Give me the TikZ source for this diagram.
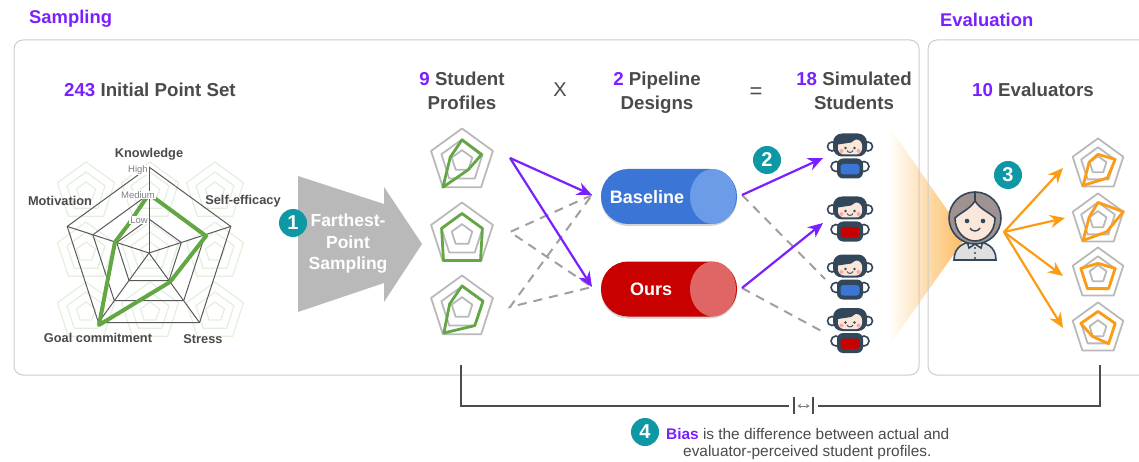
\documentclass[tikz,border=0pt]{standalone}
\usepackage{fontspec}
\setmainfont{Liberation Sans}
\usetikzlibrary{arrows.meta,shadows}
\definecolor{accent}{HTML}{7A1FFF}
\definecolor{teal}{HTML}{0E97A5}
\definecolor{inkgray}{HTML}{4A4A4A}
\definecolor{leaf}{HTML}{62A744}
\definecolor{amber}{HTML}{FB9C14}
\definecolor{navy}{HTML}{33475B}
\definecolor{skin}{HTML}{FBE6DA}
\definecolor{hairtone}{HTML}{A09290}
\definecolor{pipeblue}{HTML}{3B76D6}
\definecolor{pipered}{HTML}{C80000}
\definecolor{softblue}{HTML}{6C9BE8}
\definecolor{softred}{HTML}{E06666}
\newcommand{\fs}[1]{\fontsize{#1}{#1}\selectfont}
\newcommand{\hl}[1]{\textcolor{accent}{#1}}
\newcommand{\rings}[4]{\begin{scope}[shift={(#1,#2)}]
	\foreach \k in {1,0.667,0.333}
	\draw[#4] (-90:{#3*\k}) -- (-18:{#3*\k}) -- (54:{#3*\k}) -- (126:{#3*\k}) -- (198:{#3*\k}) -- cycle;
\end{scope}}
\newcommand{\profile}[8]{\begin{scope}[shift={(#1,#2)}]
	\draw[#4] (-90:{#3*#5}) -- (-18:{#3*#6}) -- (54:{#3*#7}) -- (126:{#3*#8}) -- (198:{#3*\lastv}) -- cycle;
\end{scope}}
\newcommand{\robot}[3]{\begin{scope}[shift={(#1,#2)}]
	\foreach \s in {-1,1} {
		\draw[robotline,fill=white] (\s*18,-10) circle (4.5);
		\draw[robotline,fill=white] (\s*14,10) circle (5);
	}
	\fill[navy,rounded corners=9pt] (-17,-23) rectangle (17,0);
	\fill[skin,rounded corners=6pt] (-12,-17) rectangle (12,-2);
	\fill[navy] (-12,-18) -- (7,-18) -- (1,-14) -- (-12,-12) -- cycle;
	\fill[navy,rounded corners=6pt] (-13,2) rectangle (13,22);
	\fill[#3,rounded corners=3pt] (-9.5,7.5) rectangle (9.5,18);
	\foreach \s in {-1,1} {
		\fill[red!35] (\s*8.5,-5.5) circle (2);
		\fill[navy] (\s*4.5,-8.5) circle (1.3);
	}
	\draw[navy,line width=.9pt] (-3,-6) .. controls (-2,-3.5) and (2,-3.5) .. (3,-6);
\end{scope}}
\newcommand{\evaluator}[2]{\begin{scope}[shift={(#1,#2)}]
	\draw[robotline,fill=gray!25] (-21,42) .. controls (-21,28) and (-10,24) .. (0,23) .. controls (10,24) and (21,28) .. (21,42) -- cycle;
	\draw[robotline,fill=white] (-8,23) -- (0,25) -- (8,23) -- (6,30) -- (0,26) -- (-6,30) -- cycle;
	\foreach \y in {30,35,40} \fill[navy] (0,\y) circle (1.1);
	\draw[robotline,fill=hairtone] (0,0) circle (26);
	\draw[robotline,fill=skin] (0,-17) .. controls (-6,-8) and (-14,-6) .. (-20,0) .. controls (-20,14) and (-10,23) .. (0,23) .. controls (10,23) and (20,14) .. (20,0) .. controls (14,-6) and (6,-8) .. (0,-17) -- cycle;
	\draw[robotline] (0,-26) -- (0,-17);
	\foreach \s in {-1,1} \fill[navy] (\s*8,3) circle (2.3);
	\draw[navy,line width=1.4pt] (-5,10) .. controls (-3,14) and (3,14) .. (5,10);
\end{scope}}
\tikzset{
	panelbox/.style={draw=gray!40,line width=1pt,rounded corners=9pt},
	ringline/.style={draw=gray!55,line width=1.8pt,line join=round},
	biggrid/.style={draw=black!65,line width=1pt},
	fadedring/.style={draw=leaf!18,line width=1.2pt},
	greenline/.style={draw=leaf,line width=2.8pt,line join=round},
	orangeline/.style={draw=amber,line width=2.8pt,line join=round},
	robotline/.style={draw=navy,line width=1.6pt},
	headtext/.style={text=inkgray,font=\bfseries\fs{18.7},align=center,inner sep=0pt},
	sectext/.style={text=accent,font=\bfseries\fs{18.4},inner sep=0pt},
	axistext/.style={text=inkgray,font=\bfseries\fs{12.8},inner sep=0pt},
	leveltext/.style={text=gray,font=\fs{9.5},fill=white,inner sep=1pt},
	stepmark/.style={circle,fill=teal,text=white,font=\bfseries\fs{20},minimum size=28pt,inner sep=0pt},
	pillbox/.style={rounded corners=27pt,minimum width=136pt,minimum height=55pt,drop shadow={shadow xshift=0pt,shadow yshift=-2pt,opacity=.35}},
	pilltext/.style={text=white,font=\bfseries\fs{18},inner sep=0pt},
	purplearrow/.style={-{Stealth[length=15pt,width=13pt]},accent,line width=2.2pt},
	amberarrow/.style={-{Stealth[length=15pt,width=13pt]},amber,line width=2.2pt},
	grayflow/.style={draw=gray!75,line width=2pt,dash pattern=on 9pt off 7pt},
	bracketline/.style={draw=black!70,line width=1.5pt}
}
\begin{document}
\begin{tikzpicture}[x=1pt,y=-1pt]
\path[use as bounding box,clip] (0,0) rectangle (1139,462);
% beam behind the panels
\shade[left color=white,right color=amber!70] (888,125) -- (966,237) -- (888,347) -- cycle;
\draw[panelbox] (14,40) rectangle (919,375);
\draw[panelbox] (928,40) rectangle (1170,375);
\node[sectext,anchor=west] (samplinghead) at (29,19) {Sampling};
\node[sectext,anchor=west] (evalhead) at (940,20) {Evaluation};
\node[headtext,anchor=west] (initialhead) at (64,90) {\hl{243} Initial Point Set};
\node[headtext] (profilehead) at (462,90.5) {\hl{9} Student\\[5pt]Profiles};
\node[headtext,font=\fs{20}] (timessign) at (560,90) {X};
\node[headtext] (pipelinehead) at (657,92.5) {\hl{2} Pipeline\\[5pt]Designs};
\node[headtext,font=\fs{22}] (equalsign) at (756,93) {=};
\node[headtext] (simhead) at (854,90.5) {\hl{18} Simulated\\[5pt]Students};
\node[headtext,anchor=west] (evaluatorhead) at (972,90) {\hl{10} Evaluators};
% big radar
\foreach \gx in {86,150,215}
	\foreach \gy in {192,252,312} {
		\rings{\gx}{\gy}{30}{fadedring}
	}
\begin{scope}[shift={(149,253)}]
	\foreach \k in {86,59,34}
	\draw[biggrid] (-90:\k) -- (-18:\k) -- (54:\k) -- (126:\k) -- (198:\k) -- cycle;
	\foreach \a in {-90,-18,54,126,198}
	\draw[biggrid] (0,0) -- (\a:86);
\end{scope}
\draw[greenline,line width=4pt] (149,194) -- (206,236) -- (170,282) -- (99,325) -- (115,242) -- (128,225) -- cycle;
\node[leveltext] (highlabel) at (138,170) {High};
\node[leveltext] (mediumlabel) at (138,195) {Medium};
\node[leveltext] (lowlabel) at (139,220) {Low};
\node[axistext] (knowledge) at (149,154) {Knowledge};
\node[axistext] (selfeff) at (243,201) {Self-efficacy};
\node[axistext] (motivation) at (60,201) {Motivation};
\node[axistext] (goal) at (98,338) {Goal commitment};
\node[axistext] (stress) at (203,339) {Stress};
% sampling arrow
\fill[gray!55] (298,176) -- (384,204) -- (384,187) -- (422,244) -- (384,302) -- (384,283) -- (298,312) -- cycle;
\node[text=white,font=\bfseries\fs{17.5},align=center,inner sep=0pt] (fpslabel) at (348,244) {Farthest-\\[4pt]Point\\[4pt]Sampling};
\node[stepmark] (stepone) at (293,223) {1};
% student profiles
\def\lastv{.38}
\rings{462}{161}{32.5}{ringline}
\profile{462}{161}{32.5}{greenline}{.65}{.63}{.33}{1}
\def\lastv{.66}
\rings{462}{235}{32.5}{ringline}
\profile{462}{235}{32.5}{greenline}{.66}{.66}{.97}{.97}
\def\lastv{.4}
\rings{462}{308}{32.5}{ringline}
\profile{462}{308}{32.5}{greenline}{.68}{.68}{.67}{.95}
% pipelines
\node[pillbox,fill=pipeblue] (baseline) at (669,196.5) {};
\fill[softblue] (713,196.5) ellipse (23 and 27.5);
\node[pilltext] (baselinetext) at (647,197) {Baseline};
\node[pillbox,fill=pipered] (ours) at (669,289) {};
\fill[softred] (713,289) ellipse (23 and 27.5);
\node[pilltext] (ourstext) at (651,289) {Ours};
% connector ends
\coordinate (profileA) at (510,158);
\coordinate (profileB) at (510,232);
\coordinate (profileC) at (510,307);
\coordinate (baselinein) at (592,195);
\coordinate (oursin) at (592,287);
\coordinate (baselineout) at (742,195);
\coordinate (oursout) at (742,288);
\coordinate (robotA) at (823,158);
\coordinate (robotB) at (823,223);
\coordinate (robotC) at (825,279);
\coordinate (robotD) at (825,333);
\draw[grayflow] (baselinein) -- (profileB) -- (oursin) -- (profileC) -- (baselinein);
\draw[purplearrow] (profileA) -- (baselinein);
\draw[purplearrow] (profileA) -- (oursin);
\draw[grayflow] (baselineout) -- (robotC);
\draw[grayflow] (oursout) -- (robotD);
\draw[purplearrow] (baselineout) -- (robotA);
\draw[purplearrow] (oursout) -- (robotB);
\node[stepmark] (steptwo) at (767,160) {2};
% robots
\robot{850}{156.5}{pipeblue}
\robot{850}{219.5}{pipered}
\robot{850}{277.5}{pipeblue}
\robot{850}{331}{pipered}
% evaluator
\evaluator{975}{218}
\node[stepmark] (stepthree) at (1008,175) {3};
\coordinate (evalhand) at (1004,232);
\coordinate (ratingA) at (1063,168);
\coordinate (ratingB) at (1065,218);
\coordinate (ratingC) at (1063,276);
\coordinate (ratingD) at (1063,328);
\foreach \r in {ratingA,ratingB,ratingC,ratingD}
\draw[amberarrow] (evalhand) -- (\r);
\def\lastv{.35}
\rings{1098}{165}{26.6}{ringline}
\profile{1098}{165}{26.6}{orangeline}{.4}{.68}{.6}{.95}
\rings{1098}{220}{26.6}{ringline}
\profile{1098}{220}{26.6}{orangeline}{.66}{1}{.55}{.95}
\def\lastv{.68}
\rings{1098}{274}{26.6}{ringline}
\profile{1098}{274}{26.6}{orangeline}{.4}{.68}{.68}{.68}
\rings{1098}{329}{26.6}{ringline}
\profile{1098}{329}{26.6}{orangeline}{.66}{.68}{.68}{.35}
% bias bracket
\coordinate (bracketL) at (461,365);
\coordinate (bracketR) at (1100,365);
\coordinate (gapL) at (789,406);
\coordinate (gapR) at (818,406);
\draw[bracketline] (bracketL) |- (gapL);
\draw[bracketline] (bracketR) |- (gapR);
\coordinate (barLtop) at (794,397);
\coordinate (barLbot) at (794,414);
\coordinate (barRtop) at (813,397);
\coordinate (barRbot) at (813,414);
\draw[bracketline] (barLtop) -- (barLbot);
\draw[bracketline] (barRtop) -- (barRbot);
\coordinate (gapA) at (797.5,406);
\coordinate (gapB) at (809.5,406);
\draw[{Stealth[length=3.5pt,width=4.5pt]}-{Stealth[length=3.5pt,width=4.5pt]},gray,line width=.8pt] (gapA) -- (gapB);
\node[stepmark] (stepfour) at (645,432) {4};
\node[text=inkgray,font=\fs{15.4},anchor=west,inner sep=0pt] (biasA) at (666,434) {\textcolor{accent}{\bfseries Bias} is the difference between actual and};
\node[text=inkgray,font=\fs{15.4},anchor=west,inner sep=0pt] (biasB) at (683,453) {evaluator-perceived student profiles.};
\end{tikzpicture}
\end{document}
